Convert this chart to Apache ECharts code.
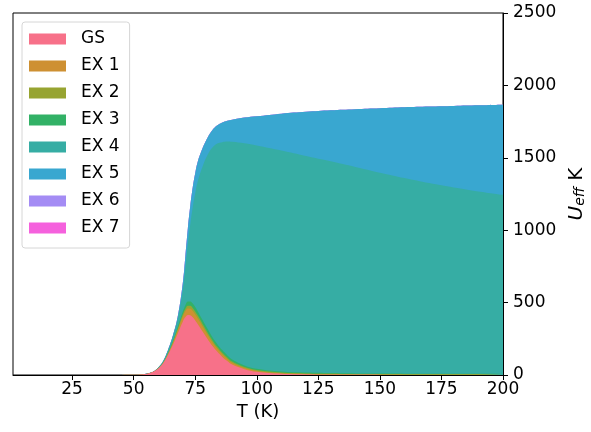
<!DOCTYPE html>
<html>
<head>
<meta charset="utf-8">
<script src="https://cdn.jsdelivr.net/npm/echarts@6/dist/echarts.min.js"></script>
<style>
  html, body { margin: 0; padding: 0; background: #fff; }
  #chart { width: 591px; height: 432px; }
</style>
</head>
<body>
<div id="chart"></div>
<script>
// temperatures (K)
const temps = [1, 10, 20, 30, 40, 45, 50, 52, 54, 56, 58, 60, 62, 64, 66, 68, 70, 71, 72, 73, 74, 75, 76, 78, 80, 82, 84, 86, 88, 90, 95, 100, 110, 120, 130, 140, 150, 160, 170, 180, 190, 200]

// contribution of each state to U_eff (K)
const gs  = [0, 0, 0, 0, 0, 0.2, 1, 2, 5, 11, 22, 45, 82, 140, 210, 290, 370, 400, 415, 412, 398, 376, 352, 300, 248, 200, 160, 125, 96, 72, 40, 22, 8, 4, 2, 1, 0.6, 0.4, 0.3, 0.2, 0.1, 0.1]
const ex1 = [0, 0, 0, 0, 0, 0, 0, 0, 0, 0.2, 0.5, 1, 3, 7, 14, 24, 35, 40, 44, 45, 44, 42, 40, 35, 30, 25, 21, 18, 15, 12, 8, 6, 4, 3, 2.5, 2, 2, 2, 2, 2, 2, 2]
const ex2 = [0, 0, 0, 0, 0, 0, 0, 0, 0, 0, 0, 0.3, 1, 3, 6, 11, 16, 18, 20, 21, 21, 21, 20, 18, 16, 14, 12, 11, 10, 9, 7, 6, 5, 4, 4, 3, 3, 3, 3, 3, 3, 3]
const ex3 = [0, 0, 0, 0, 0, 0, 0, 0, 0, 0, 0, 0.3, 1, 3, 6, 12, 20, 24, 28, 30, 30, 30, 29, 27, 25, 22, 20, 18, 16, 14, 11, 9, 7, 6, 5, 5, 4, 4, 4, 4, 4, 4]
const ex4 = [0, 0, 0, 0, 0, 0, 0, 0, 0, 0.8, 1.5, 5, 9, 19, 34, 60, 150, 258, 393, 532, 667, 786, 894, 1060, 1200, 1310, 1385, 1436, 1475, 1503, 1534, 1542, 1526, 1495, 1462, 1426, 1388, 1351, 1316, 1286, 1259, 1235]
const ex5 = [0, 0, 0, 0, 0, 0, 0, 0, 0, 0, 0, 0.5, 1, 3, 6, 15, 50, 80, 110, 128, 136, 138, 136, 127, 120, 121, 126, 135, 144, 153, 178, 202, 255, 306, 353, 399, 445, 489, 529, 563, 594, 622]
const ex6 = [0, 0, 0, 0, 0, 0, 0, 0, 0, 0, 0, 0, 0, 0, 0, 0, 0, 0, 0, 0, 0, 0, 0, 0, 0, 0, 0, 0, 0, 0, 0, 0, 0, 0, 0, 0, 0, 0, 0, 0, 0, 0]
const ex7 = [0, 0, 0, 0, 0, 0, 0, 0, 0, 0, 0, 0, 0, 0, 0, 0, 0, 0, 0, 0, 0, 0, 0, 0, 0, 0, 0, 0, 0, 0, 0, 0, 0, 0, 0, 0, 0, 0, 0, 0, 0, 0]

const names = ['GS', 'EX 1', 'EX 2', 'EX 3', 'EX 4', 'EX 5', 'EX 6', 'EX 7']
const colors = ['#f77189', '#ce9032', '#97a431', '#32b166', '#36ada4', '#39a7d0', '#a48cf4', '#f561dd']
const xTicks = [25, 50, 75, 100, 125, 150, 175, 200]

const font = 'DejaVu Sans'
const chart = echarts.init(document.getElementById('chart'))

// stack by hand: each area is filled down to the axis, lower states drawn on top
const layers = [gs, ex1, ex2, ex3, ex4, ex5, ex6, ex7]
const running = temps.map(() => 0)
const series = layers.map((vals, i) => {
  const top = running.map((r, j) => (running[j] = r + vals[j]))
  return {
    name: names[i],
    type: 'line',
    data: temps.map((t, j) => [t, top[j]]),
    z: 10 - i,
    smooth: 0.4,
    symbol: 'none',
    lineStyle: { width: 0 },
    areaStyle: { color: colors[i], opacity: 1 },
    itemStyle: { color: colors[i] },
    emphasis: { disabled: true }
  }
}).reverse()

chart.setOption({
  animation: false,
  color: colors,
  grid: {
    left: 13, right: 88, top: 13, bottom: 57,
    outerBoundsMode: 'none',
    containLabel: false,
    show: true, borderColor: '#000', borderWidth: 1, backgroundColor: 'transparent'
  },
  legend: {
    orient: 'vertical',
    left: 22, top: 22,
    icon: 'rect',
    itemWidth: 37, itemHeight: 11, itemGap: 9,
    padding: [8, 10, 11, 7],
    backgroundColor: '#fff',
    borderColor: '#d6d6d6', borderWidth: 1, borderRadius: 3,
    textStyle: { fontFamily: font, fontSize: 17, color: '#000', lineHeight: 18, padding: [0, 0, 0, 10] },
    data: names,
    z: 20
  },
  xAxis: {
    type: 'value',
    min: 1, max: 200,
    name: 'T (K)',
    nameLocation: 'middle',
    nameGap: 27,
    nameTextStyle: { fontFamily: font, fontSize: 18, color: '#000' },
    axisLine: { lineStyle: { color: '#000', width: 1 } },
    axisTick: { show: true, length: 5, customValues: xTicks, lineStyle: { color: '#000' } },
    axisLabel: { customValues: xTicks, fontFamily: font, fontSize: 17, color: '#000', margin: 6 },
    splitLine: { show: false }
  },
  yAxis: {
    type: 'value',
    position: 'right',
    min: 0, max: 2500, interval: 500,
    name: '{u|U}{s|eff} K',
    nameLocation: 'middle',
    nameRotate: 90,
    nameGap: 58,
    nameTextStyle: {
      fontFamily: font, fontSize: 20, color: '#000',
      rich: {
        u: { fontFamily: font, fontSize: 20, fontStyle: 'italic', color: '#000' },
        s: { fontFamily: font, fontSize: 14, fontStyle: 'italic', color: '#000', verticalAlign: 'bottom', padding: [7, 0, 0, 0] }
      }
    },
    axisLine: { show: true, lineStyle: { color: '#000', width: 1 } },
    axisTick: { show: true, length: 5, lineStyle: { color: '#000' } },
    axisLabel: { fontFamily: font, fontSize: 17, color: '#000', margin: 10, formatter: v => String(v) },
    splitLine: { show: false }
  },
  series
})
</script>
</body>
</html>
